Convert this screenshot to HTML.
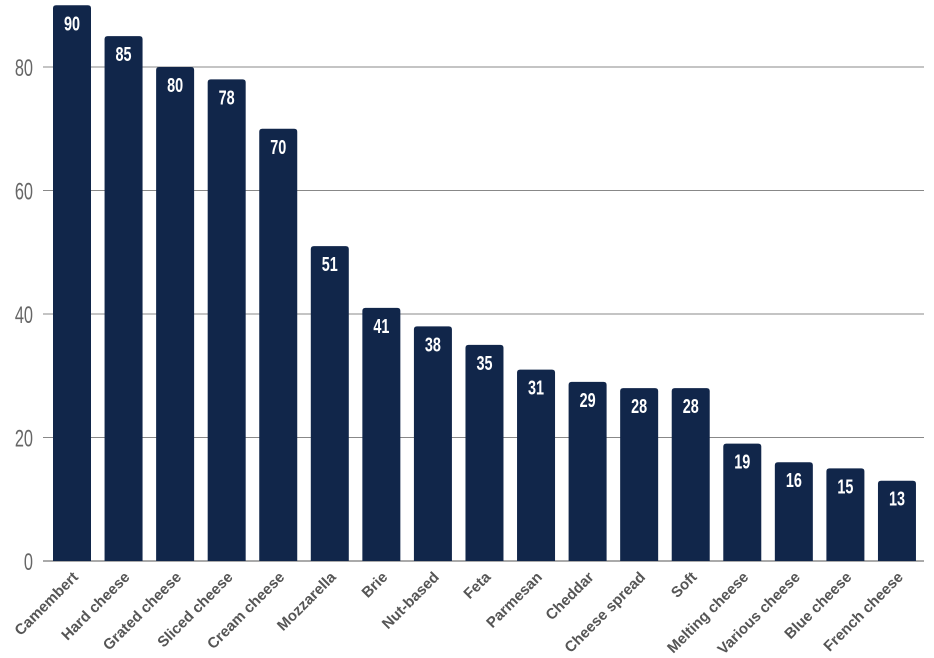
<!DOCTYPE html>
<html><head><meta charset="utf-8"><style>
html,body{margin:0;padding:0;background:#fff;}
svg{display:block;font-family:"Liberation Sans",sans-serif;}
</style></head><body>
<svg id="chart" width="934" height="658" viewBox="0 0 934 658"></svg>
<script>
const categories=["Camembert","Hard cheese","Grated cheese","Sliced cheese","Cream cheese","Mozzarella","Brie","Nut-based","Feta","Parmesan","Cheddar","Cheese spread","Soft","Melting cheese","Various cheese","Blue cheese","French cheese"];
const values=[90,85,80,78,70,51,41,38,35,31,29,28,28,19,16,15,13];
const yTicks=[0,20,40,60,80];
const NS="http://www.w3.org/2000/svg";
const svg=document.getElementById('chart');
const y0=561, pxPerUnit=(561-67)/80;
function y(v){return y0-v*pxPerUnit;}
const firstX=53, step=51.56, bw=38;
function x(i){return firstX+i*step;}
function mk(t,a,p){const e=document.createElementNS(NS,t);for(const k in a)e.setAttribute(k,a[k]);(p||svg).appendChild(e);return e;}
yTicks.forEach(t=>{
  const l=mk('line',{x1:43,x2:924,y1:y(t),y2:y(t),stroke:t===0?'#555':'#888','stroke-width':1});
  
  
  const tx=mk('text',{x:0,y:0,'font-size':24,fill:'#666','text-anchor':'end',transform:`translate(33,${y(t)+9}) scale(0.68,1)`});
  tx.textContent=t;
  
  
});
values.forEach((v,i)=>{
  const bx=x(i), top=y(v);
  const r=mk('path',{d:`M${bx},${y0} V${top+3} Q${bx},${top} ${bx+3},${top} H${bx+bw-3} Q${bx+bw},${top} ${bx+bw},${top+3} V${y0} Z`,fill:'#11264a'});
  
  
  const t=mk('text',{x:0,y:0,'font-size':20,'font-weight':'bold',fill:'#fff','text-anchor':'middle',transform:`translate(${bx+bw/2},${top+25}) scale(0.72,1)`});
  t.textContent=v;
  
  
  const c=mk('text',{x:0,y:0,'font-size':15,'font-weight':'bold',fill:'#555','text-anchor':'end',transform:`translate(${bx+bw/2+7},${y0+17}) rotate(-45)`});
  c.textContent=categories[i];
  
  
});
</script>
</body></html>
